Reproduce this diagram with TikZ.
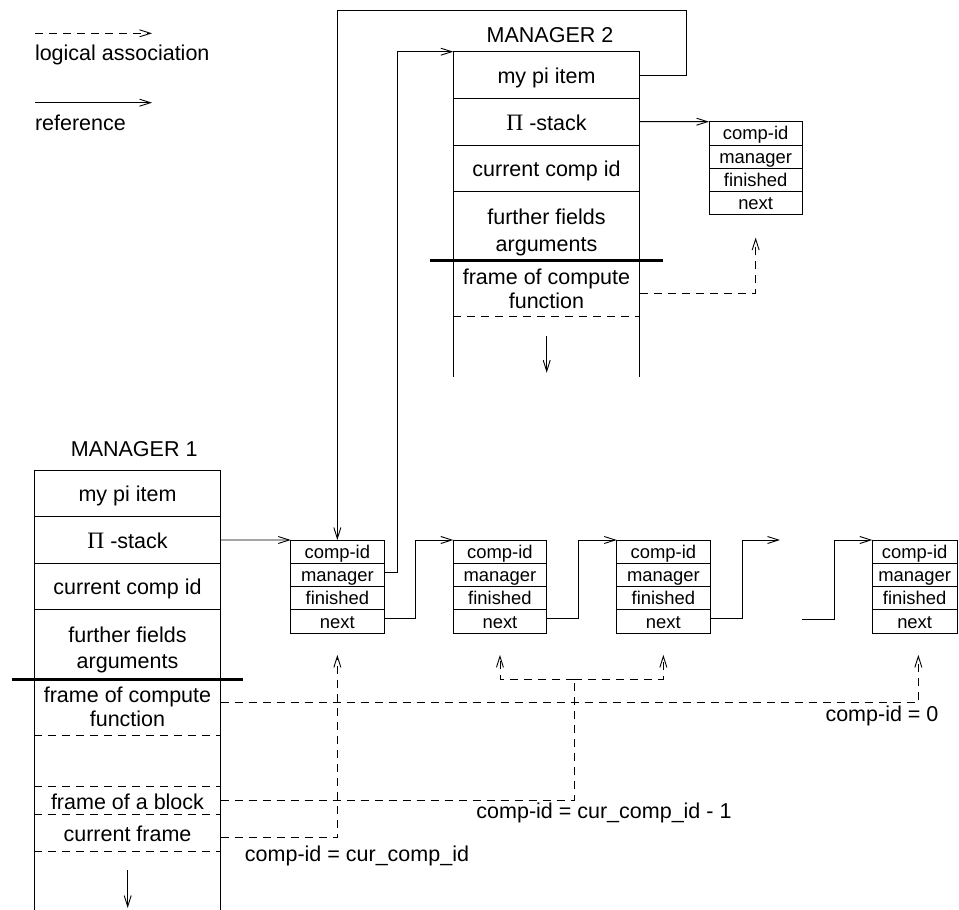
\documentclass[tikz,border=0pt]{standalone}
\usepackage{fontspec}
\setmainfont{Liberation Sans}
\newfontfamily\pifont{Liberation Serif}
\usetikzlibrary{arrows.meta,calc}
\begin{document}
\begin{tikzpicture}[x=1pt,y=-1pt,
  every node/.style={inner sep=0pt, outer sep=0pt},
  bigfont/.style={font=\fontsize{21.5}{26}\selectfont},
  smallfont/.style={font=\fontsize{18.4}{22}\selectfont},
  mrow/.style={draw, line width=0.9pt, bigfont, anchor=north west, minimum width=186.4pt, text height=22.6pt, text depth=5.4pt},
  zone/.style={anchor=north west, minimum width=186.4pt},
  cell/.style={draw, line width=0.9pt, smallfont, anchor=north west, minimum height=23.3pt, text height=17.8pt, text depth=4.6pt},
  txt/.style={bigfont, anchor=base},
  ref/.style={line width=0.9pt, -{Straight Barb[length=11pt,width=7pt]}},
  refline/.style={line width=0.9pt},
  logic/.style={ref, dash pattern=on 8pt off 6pt},
  logicline/.style={line width=0.9pt, dash pattern=on 8pt off 6pt},
  dashsep/.style={line width=0.9pt, dash pattern=on 8pt off 6pt},
  heavybar/.style={line width=3.2pt}
]
\useasboundingbox (0,0) rectangle (959,910);

% ---------- legend ----------
\coordinate (lgA) at (35,33.3);
\coordinate (lgB) at (152,33.3);
\draw[logic] (lgA) -- (lgB);
\node[bigfont, anchor=base west] (lgT1) at (35,60) {logical association};
\coordinate (lgC) at (35,102.7);
\coordinate (lgD) at (152,102.7);
\draw[ref] (lgC) -- (lgD);
\node[bigfont, anchor=base west] (lgT2) at (35,130.5) {reference};

% ---------- MANAGER 1 ----------
\node[txt] (man1) at (134.2,456.7) {MANAGER 1};
\node[mrow, minimum height=46.7pt] (m1a) at (34.3,470) {my pi item};
\node[mrow, minimum height=46.6pt] (m1b) at (m1a.south west) {{\pifont\fontsize{23.5}{26}\selectfont Π} -stack};
\node[mrow, minimum height=46pt] (m1c) at (m1b.south west) {current comp id};
\node[mrow, minimum height=70pt] (m1d) at (m1c.south west) {};
\node[txt] (m1d1) at ([yshift=-33.3pt]m1d.north) {further fields};
\node[txt] (m1d2) at ([yshift=-59.3pt]m1d.north) {arguments};
\node[zone, minimum height=55.7pt] (m1e) at (m1d.south west) {};
\node[zone, minimum height=51.7pt] (m1f) at (m1e.south west) {};
\node[zone, minimum height=27.6pt] (m1g) at (m1f.south west) {};
\node[zone, minimum height=37.4pt] (m1h) at (m1g.south west) {};
\node[txt] (m1e1) at ([yshift=-23.4pt]m1e.north) {frame of compute};
\node[txt] (m1e2) at ([yshift=-47.4pt]m1e.north) {function};
\node[txt] (m1g1) at ([yshift=-22.6pt]m1g.north) {frame of a block};
\node[txt] (m1h1) at ([yshift=-27.4pt]m1h.north) {current frame};
\coordinate (m1bot) at (127.5,910);
\draw[refline] (m1e.north west) -- (m1e.north west |- m1bot);
\draw[refline] (m1e.north east) -- (m1e.north east |- m1bot);
\draw[dashsep] (m1e.south west) -- (m1e.south east);
\draw[dashsep] (m1f.south west) -- (m1f.south east);
\draw[dashsep] (m1g.south west) -- (m1g.south east);
\draw[dashsep] (m1h.south west) -- (m1h.south east);
\draw[heavybar] ([xshift=-22.6pt]m1d.south west) -- ([xshift=22.6pt]m1d.south east);
\coordinate (m1arrA) at (127.7,870);
\coordinate (m1arrB) at (127.7,908);
\draw[ref] (m1arrA) -- (m1arrB);

% ---------- MANAGER 2 ----------
\node[txt] (man2) at (550,42.7) {MANAGER 2};
\node[mrow, minimum height=46.6pt] (m2a) at (453.3,51.7) {my pi item};
\node[mrow, minimum height=46.7pt] (m2b) at (m2a.south west) {{\pifont\fontsize{23.5}{26}\selectfont Π} -stack};
\node[mrow, minimum height=46.7pt] (m2c) at (m2b.south west) {current comp id};
\node[mrow, minimum height=69pt] (m2d) at (m2c.south west) {};
\node[txt] (m2d1) at ([yshift=-32.8pt]m2d.north) {further fields};
\node[txt] (m2d2) at ([yshift=-59.5pt]m2d.north) {arguments};
\node[zone, minimum height=56pt] (m2e) at (m2d.south west) {};
\node[txt] (m2e1) at ([yshift=-23.4pt]m2e.north) {frame of compute};
\node[txt] (m2e2) at ([yshift=-47.4pt]m2e.north) {function};
\coordinate (m2bot) at (546.2,376.7);
\draw[refline] (m2e.north west) -- (m2e.north west |- m2bot);
\draw[refline] (m2e.north east) -- (m2e.north east |- m2bot);
\draw[dashsep] (m2e.south west) -- (m2e.south east);
\draw[heavybar] ([xshift=-23.3pt]m2d.south west) -- ([xshift=23.3pt]m2d.south east);
\coordinate (m2arrA) at (546.7,335.7);
\coordinate (m2arrB) at (546.7,372.7);
\draw[ref] (m2arrA) -- (m2arrB);

% ---------- computation items ----------
\foreach \n/\x/\y/\w in {c1/290.7/540/93.3, c2/453.3/540/93.3, c3/616.7/540/93.3, c4/872.3/540/84.7, cm/709/121.7/93.3}{
  \node[cell, minimum width=\w] (\n a) at (\x,\y) {comp-id\hspace{8pt}};
  \node[cell, minimum width=\w] (\n b) at (\n a.south west) {manager};
  \node[cell, minimum width=\w] (\n c) at (\n b.south west) {finished};
  \node[cell, minimum width=\w] (\n d) at (\n c.south west) {next};
}

% ---------- references ----------
\draw[ref] (m1b.east) -- (c1a.north west);
\draw[ref] (m2b.east) -- (cma.north west);
\draw[ref] ([yshift=2.7pt]c1b.east) -- ++(13.3,0) |- (m2a.north west);
\coordinate (loop) at (686,10);
\draw[ref] (m2a.east) -| (loop) -| (c1a.north);
\draw[ref] ([yshift=2.7pt]c1d.east) -- ++(31.7,0) |- (c2a.north west);
\draw[ref] ([yshift=2.7pt]c2d.east) -- ++(31.7,0) |- (c3a.north west);
\coordinate (gapA) at (780,540);
\draw[ref] ([yshift=2.7pt]c3d.east) -- ++(32.4,0) |- (gapA);
\coordinate (gapB) at (802.3,619);
\draw[ref] (gapB) -- ++(32,0) |- (c4a.north west);

% ---------- logical associations ----------
\coordinate (cmT) at ([yshift=-22.7pt]cmd.south);
\draw[logic] ([yshift=-4.6pt]m2e.east) -| (cmT);
\coordinate (c4T) at ([xshift=3.7pt,yshift=-21.7pt]c4d.south);
\draw[logic] ([yshift=4.5pt]m1e.east) -| (c4T);
\coordinate (c1T) at ([yshift=-21.7pt]c1d.south);
\draw[logic] ([yshift=-4.3pt]m1h.east) -| (c1T);
\coordinate (fork) at (574,679);
\draw[logicline] ([yshift=0.5pt]m1g.east) -| (fork);
\coordinate (c2T) at ([yshift=-21.7pt]c2d.south);
\coordinate (c3T) at ([yshift=-21.7pt]c3d.south);
\draw[logic] (fork) -| (c2T);
\draw[logic] (fork) -| (c3T);

% ---------- labels ----------
\node[txt] (lab0) at (882,721.7) {comp-id = 0};
\node[txt] (lab1) at (604,818) {comp-id = cur\_comp\_id - 1};
\node[txt] (lab2) at (357,861) {comp-id = cur\_comp\_id};
\end{tikzpicture}
\end{document}
